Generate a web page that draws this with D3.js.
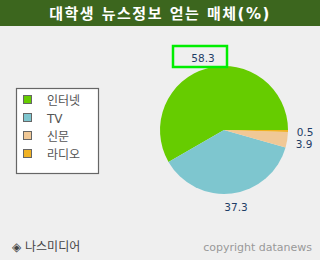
<!DOCTYPE html>
<html>
<head>
<meta charset="utf-8">
<script src="https://cdn.jsdelivr.net/npm/d3@7"></script>
<style>
body { margin: 0; background: #efefef; }
text { font-family: "DejaVu Sans", "Noto Sans CJK KR", sans-serif; }
</style>
</head>
<body>
<div id="chart"></div>
<script>
// data
var titleText = "대학생 뉴스정보 얻는 매체(%)";
var categories = ["인터넷", "TV", "신문", "라디오"];
var values = [58.3, 37.3, 3.9, 0.5];
var colors = ["#66cc00", "#7ec6cf", "#f0c896", "#f0b224"];

var svgWidth = 320;
var svgHeight = 260;

var svg = d3.select("#chart")
	.append("svg")
	.attr("width", svgWidth)
	.attr("height", svgHeight);

svg.append("rect")
	.attr("width", svgWidth)
	.attr("height", svgHeight)
	.attr("fill", "#efefef");

// title bar
svg.append("rect")
	.attr("width", svgWidth)
	.attr("height", 26)
	.attr("fill", "#3c661e");

svg.append("text")
	.attr("x", svgWidth / 2)
	.attr("y", 19)
	.attr("text-anchor", "middle")
	.attr("fill", "#fff")
	.style("font-size", "15px")
	.style("font-weight", "bold")
	.style("letter-spacing", "1.5px")
	.text(titleText);

// legend
svg.append("rect")
	.attr("x", 16.5)
	.attr("y", 88.5)
	.attr("width", 82)
	.attr("height", 85)
	.attr("fill", "#fff")
	.attr("stroke", "#666")
	.attr("stroke-width", 1.2);

var legendY = d3.scalePoint()
	.domain(categories)
	.range([100, 154]);

var legend = svg.selectAll(".legendItem")
	.data(categories)
	.enter()
	.append("g")
	.attr("transform", d => `translate(0, ${legendY(d)})`);

legend.append("rect")
	.attr("x", 23.5)
	.attr("y", -4.5)
	.attr("width", 8)
	.attr("height", 8)
	.attr("fill", (d, i) => colors[i])
	.attr("stroke", "#666")
	.attr("stroke-width", 1);

legend.append("text")
	.attr("x", 47)
	.attr("y", 4.5)
	.attr("fill", "#555")
	.style("font-size", "12px")
	.text(d => d);

// pie
var cx = 224, cy = 130, radius = 64;

var pie = d3.pie()
	.sort(null)
	.startAngle(Math.PI / 2)
	.endAngle(Math.PI / 2 - 2 * Math.PI);

var arcs = pie(values);

var arc = d3.arc()
	.innerRadius(0)
	.outerRadius(radius);

var pieGroup = svg.append("g")
	.attr("transform", `translate(${cx}, ${cy})`);

pieGroup.selectAll("path")
	.data(arcs)
	.enter()
	.append("path")
	.attr("d", arc)
	.attr("fill", (d, i) => colors[i]);

// value labels
var labelPos = [[203, 62], [236, 211], [304, 147.5], [305, 135.5]];

// highlight box on the biggest value
svg.append("rect")
	.attr("x", 173)
	.attr("y", 46)
	.attr("width", 54)
	.attr("height", 21)
	.attr("fill", "none")
	.attr("stroke", "#00ee00")
	.attr("stroke-width", 2.5);

svg.selectAll(".valueLabel")
	.data(values)
	.enter()
	.append("text")
	.attr("class", "valueLabel")
	.attr("x", (d, i) => labelPos[i][0])
	.attr("y", (d, i) => labelPos[i][1])
	.attr("text-anchor", "middle")
	.attr("fill", "#1f3d66")
	.style("font-size", "10.5px")
	.text(d => d.toFixed(1));

// footer
svg.append("text")
	.attr("x", 12)
	.attr("y", 251)
	.attr("fill", "#444")
	.style("font-size", "12px")
	.text("◈ 나스미디어");

svg.append("text")
	.attr("x", 312)
	.attr("y", 251)
	.attr("text-anchor", "end")
	.attr("fill", "#999")
	.style("font-size", "11px")
	.text("copyright datanews");
</script>
</body>
</html>
